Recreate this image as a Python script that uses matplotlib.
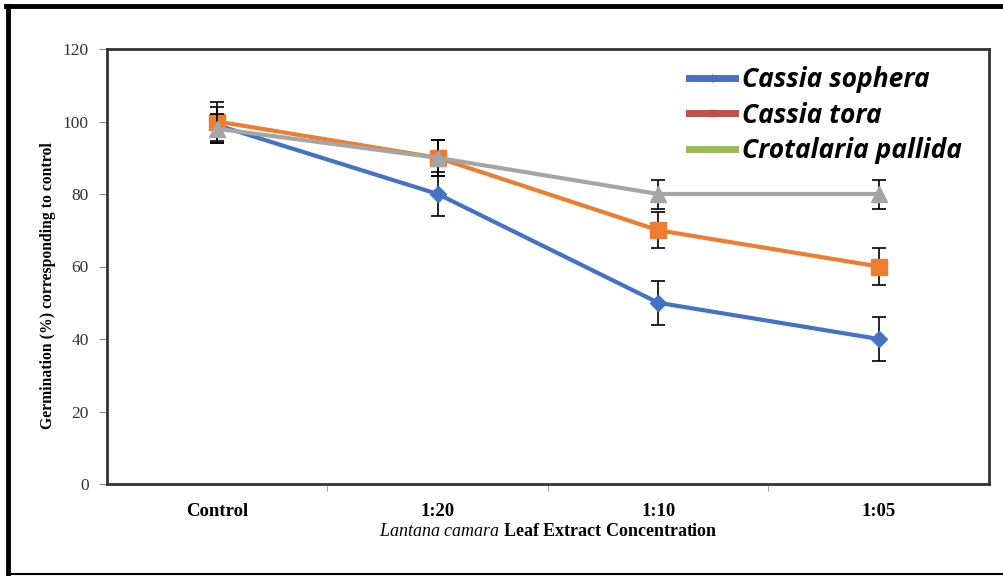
import matplotlib
matplotlib.use("Agg")

import matplotlib.pyplot as plt
from matplotlib.lines import Line2D

# data
categories = ["Control", "1:20", "1:10", "1:05"]
sophera = [99, 80, 50, 40]
sophera_err = [5, 6, 6, 6]
tora = [100, 90, 70, 60]
tora_err = [5.5, 5, 5, 5]
pallida = [98, 90, 80, 80]
pallida_err = [4, 5, 4, 4]
legend_names = ["Cassia sophera", "Cassia tora", "Crotalaria pallida"]

plt.rcParams["mathtext.fontset"] = "custom"
plt.rcParams["mathtext.it"] = "Liberation Serif:italic"
plt.rcParams["mathtext.rm"] = "Liberation Serif"

fig = plt.figure(figsize=(10.04, 5.76), dpi=100)
ax = fig.add_axes([107 / 1004, 1 - 484 / 576, 882 / 1004, 435 / 576])

x = list(range(len(categories)))
err_kw = dict(ecolor="black", elinewidth=1.2, capsize=5, capthick=1.2)

ax.errorbar(x, sophera, yerr=sophera_err, color="#4472c4", lw=3,
            marker="D", ms=8, zorder=3, **err_kw)
ax.errorbar(x, tora, yerr=tora_err, color="#ed7d31", lw=3,
            marker="s", ms=11, zorder=4, **err_kw)
ax.errorbar(x, pallida, yerr=pallida_err, color="#a5a5a5", lw=3,
            marker="^", ms=11, zorder=5, **err_kw)

ax.set_xlim(-0.5, 3.5)
ax.set_ylim(0, 120)
ax.set_yticks(range(0, 121, 20))
ax.set_xticks([0.5, 1.5, 2.5], minor=True)
ax.set_xticks(x)
ax.set_xticklabels(categories, fontfamily="Liberation Serif",
                   fontweight="bold", fontsize=13.5)
ax.tick_params(axis="x", which="major", length=0, pad=14)
ax.tick_params(axis="x", which="minor", length=5, color="#888888")
ax.tick_params(axis="y", length=6, color="#888888", labelsize=12.5, pad=7)
for lab in ax.get_yticklabels():
    lab.set_fontfamily("Liberation Serif")
    lab.set_color("#333333")

for sp in ax.spines.values():
    sp.set_linewidth(2)
    sp.set_color("#333333")

ax.set_ylabel("Germination (%) corresponding to control",
              fontfamily="Liberation Serif", fontweight="bold", fontsize=11.3)
ax.yaxis.set_label_coords(-0.058, 0.457)
ax.set_xlabel(r"$\mathit{Lantana\ camara}$ Leaf Extract Concentration",
              fontfamily="Liberation Serif", fontweight="bold", fontsize=13,
              labelpad=2)

handles = [
    Line2D([], [], color="#4472c4", lw=5, marker="+", ms=6),
    Line2D([], [], color="#c0504d", lw=5, marker="s", ms=5),
    Line2D([], [], color="#9bbb59", lw=5, marker="^", ms=5),
]
leg = ax.legend(handles, legend_names, loc="upper left",
                bbox_to_anchor=(0.66, 0.961), frameon=False,
                borderpad=0, borderaxespad=0,
                handlelength=1.75, labelspacing=0.33, handletextpad=0.25,
                prop={"family": "Open Sans", "style": "italic",
                      "weight": "bold", "size": 19})

# outer frame
fig.add_artist(Line2D([8 / 1004, 8 / 1004], [0, 1 - 6 / 576],
                      transform=fig.transFigure, color="black", lw=3.5))
fig.add_artist(Line2D([6 / 1004, 1], [1 - 6 / 576, 1 - 6 / 576],
                      transform=fig.transFigure, color="black", lw=3.5))
fig.add_artist(Line2D([8 / 1004, 1], [2 / 576, 2 / 576],
                      transform=fig.transFigure, color="black", lw=1.5))

fig.savefig("out.png", dpi=100)
